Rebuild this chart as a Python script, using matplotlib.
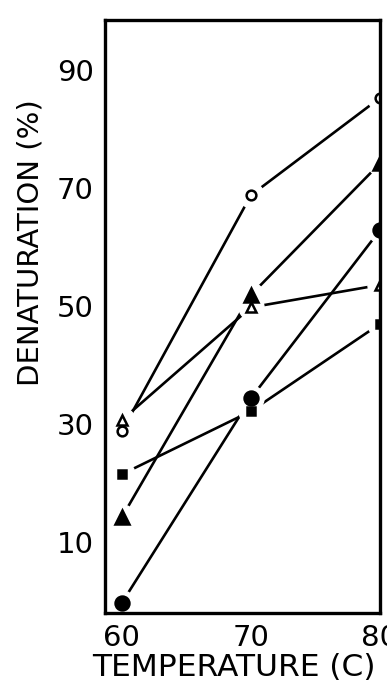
import matplotlib
matplotlib.use("Agg")
import matplotlib.pyplot as plt

temps = [60, 70, 80]
open_circle = [28.8, 68.8, 85.3]
filled_triangle = [14.2, 51.9, 74.2]
filled_circle = [-0.3, 34.4, 62.9]
open_triangle = [30.7, 49.8, 53.6]
filled_square = [21.5, 32.2, 47.0]

yticks = [10, 30, 50, 70, 90]
xticks = [60, 70, 80]

plt.rcParams['font.family'] = ['DejaVu Sans']
fig = plt.figure(figsize=(3.87, 6.95), dpi=100)
ax = fig.add_axes([105/387, 1-613/695, 275/387, 593/695])

series = [
    (open_circle, 'o', 'white', 7),
    (filled_triangle, '^', 'black', 10),
    (filled_circle, 'o', 'black', 10),
    (open_triangle, '^', 'white', 7),
    (filled_square, 's', 'black', 6),
]
for vals, m, fc, ms in series:
    ax.plot(temps, vals, color='black', lw=1.9, zorder=2)
for vals, m, fc, ms in series:
    ax.plot(temps, vals, linestyle='none', marker='o', ms=18, mfc='white',
            mec='white', zorder=3)
for vals, m, fc, ms in series:
    ax.plot(temps, vals, linestyle='none', marker=m, ms=ms, mfc=fc,
            mec='black', mew=1.8, zorder=4)

ax.set_xlim(58.7, 80)
ax.set_ylim(-2, 98.5)
ax.set_xticks(xticks)
ax.set_yticks(yticks)
ax.tick_params(length=0, labelsize=21, pad=8)
for s in ax.spines.values():
    s.set_linewidth(2.4)
    s.set_zorder(5)
ax.set_ylabel('DENATURATION (%)', fontsize=21)
ax.yaxis.set_label_coords(-0.22, 0.624)
ax.set_xlabel('TEMPERATURE (C)', fontsize=22.5)
ax.xaxis.set_label_coords(0.47, -0.067)
fig.savefig('out.png', dpi=100)
